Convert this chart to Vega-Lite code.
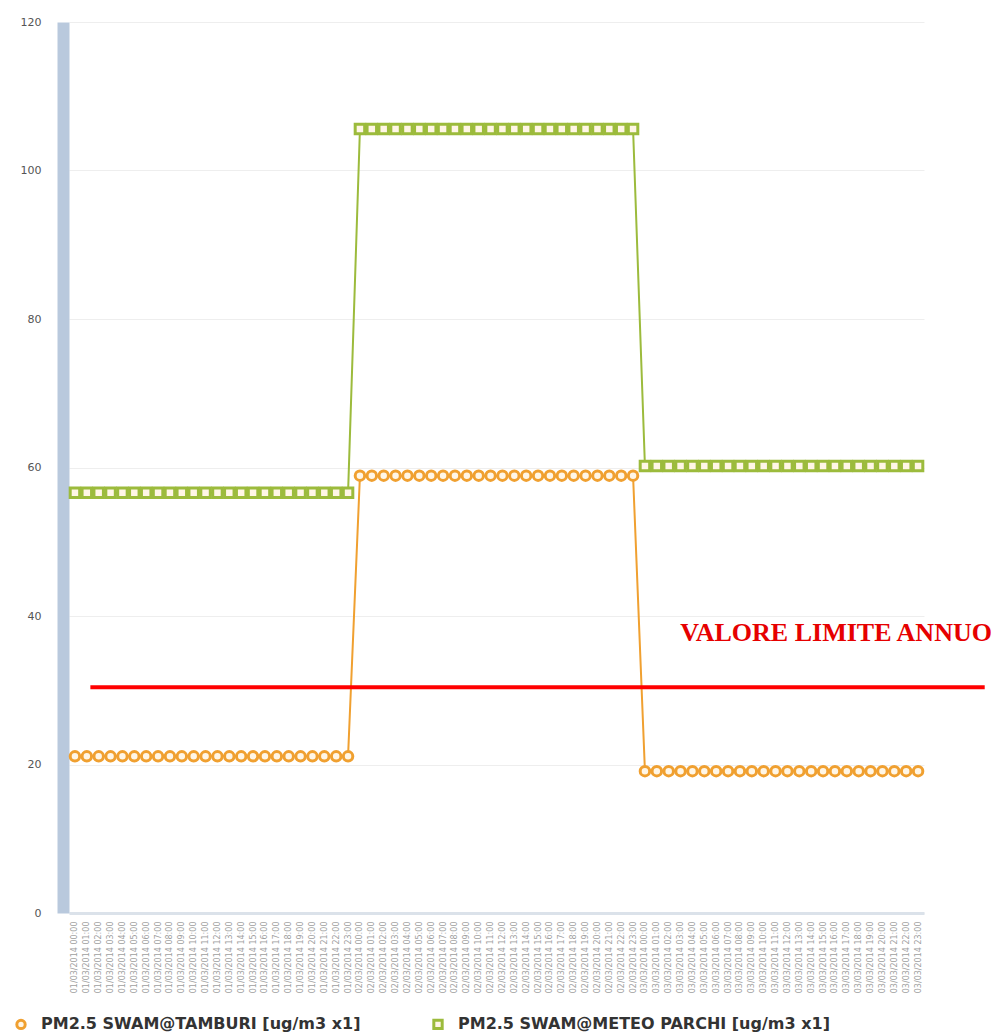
{
  "$schema": "https://vega.github.io/schema/vega-lite/v6.json",
  "width": 855,
  "height": 891,
  "autosize": {"type": "none"},
  "padding": {"left": 69, "top": 22, "right": 80, "bottom": 120},
  "background": "white",
  "config": {"view": {"stroke": null}, "font": "DejaVu Sans"},
  "datasets": {
    "pm": [
      {"t":"01/03/2014 00:00","s":"TAMBURI","v":21.1},{"t":"01/03/2014 01:00","s":"TAMBURI","v":21.1},{"t":"01/03/2014 02:00","s":"TAMBURI","v":21.1},{"t":"01/03/2014 03:00","s":"TAMBURI","v":21.1},{"t":"01/03/2014 04:00","s":"TAMBURI","v":21.1},{"t":"01/03/2014 05:00","s":"TAMBURI","v":21.1},{"t":"01/03/2014 06:00","s":"TAMBURI","v":21.1},{"t":"01/03/2014 07:00","s":"TAMBURI","v":21.1},{"t":"01/03/2014 08:00","s":"TAMBURI","v":21.1},{"t":"01/03/2014 09:00","s":"TAMBURI","v":21.1},{"t":"01/03/2014 10:00","s":"TAMBURI","v":21.1},{"t":"01/03/2014 11:00","s":"TAMBURI","v":21.1},{"t":"01/03/2014 12:00","s":"TAMBURI","v":21.1},{"t":"01/03/2014 13:00","s":"TAMBURI","v":21.1},{"t":"01/03/2014 14:00","s":"TAMBURI","v":21.1},{"t":"01/03/2014 15:00","s":"TAMBURI","v":21.1},{"t":"01/03/2014 16:00","s":"TAMBURI","v":21.1},{"t":"01/03/2014 17:00","s":"TAMBURI","v":21.1},{"t":"01/03/2014 18:00","s":"TAMBURI","v":21.1},{"t":"01/03/2014 19:00","s":"TAMBURI","v":21.1},{"t":"01/03/2014 20:00","s":"TAMBURI","v":21.1},{"t":"01/03/2014 21:00","s":"TAMBURI","v":21.1},{"t":"01/03/2014 22:00","s":"TAMBURI","v":21.1},{"t":"01/03/2014 23:00","s":"TAMBURI","v":21.1},
      {"t":"02/03/2014 00:00","s":"TAMBURI","v":58.9},{"t":"02/03/2014 01:00","s":"TAMBURI","v":58.9},{"t":"02/03/2014 02:00","s":"TAMBURI","v":58.9},{"t":"02/03/2014 03:00","s":"TAMBURI","v":58.9},{"t":"02/03/2014 04:00","s":"TAMBURI","v":58.9},{"t":"02/03/2014 05:00","s":"TAMBURI","v":58.9},{"t":"02/03/2014 06:00","s":"TAMBURI","v":58.9},{"t":"02/03/2014 07:00","s":"TAMBURI","v":58.9},{"t":"02/03/2014 08:00","s":"TAMBURI","v":58.9},{"t":"02/03/2014 09:00","s":"TAMBURI","v":58.9},{"t":"02/03/2014 10:00","s":"TAMBURI","v":58.9},{"t":"02/03/2014 11:00","s":"TAMBURI","v":58.9},{"t":"02/03/2014 12:00","s":"TAMBURI","v":58.9},{"t":"02/03/2014 13:00","s":"TAMBURI","v":58.9},{"t":"02/03/2014 14:00","s":"TAMBURI","v":58.9},{"t":"02/03/2014 15:00","s":"TAMBURI","v":58.9},{"t":"02/03/2014 16:00","s":"TAMBURI","v":58.9},{"t":"02/03/2014 17:00","s":"TAMBURI","v":58.9},{"t":"02/03/2014 18:00","s":"TAMBURI","v":58.9},{"t":"02/03/2014 19:00","s":"TAMBURI","v":58.9},{"t":"02/03/2014 20:00","s":"TAMBURI","v":58.9},{"t":"02/03/2014 21:00","s":"TAMBURI","v":58.9},{"t":"02/03/2014 22:00","s":"TAMBURI","v":58.9},{"t":"02/03/2014 23:00","s":"TAMBURI","v":58.9},
      {"t":"03/03/2014 00:00","s":"TAMBURI","v":19.1},{"t":"03/03/2014 01:00","s":"TAMBURI","v":19.1},{"t":"03/03/2014 02:00","s":"TAMBURI","v":19.1},{"t":"03/03/2014 03:00","s":"TAMBURI","v":19.1},{"t":"03/03/2014 04:00","s":"TAMBURI","v":19.1},{"t":"03/03/2014 05:00","s":"TAMBURI","v":19.1},{"t":"03/03/2014 06:00","s":"TAMBURI","v":19.1},{"t":"03/03/2014 07:00","s":"TAMBURI","v":19.1},{"t":"03/03/2014 08:00","s":"TAMBURI","v":19.1},{"t":"03/03/2014 09:00","s":"TAMBURI","v":19.1},{"t":"03/03/2014 10:00","s":"TAMBURI","v":19.1},{"t":"03/03/2014 11:00","s":"TAMBURI","v":19.1},{"t":"03/03/2014 12:00","s":"TAMBURI","v":19.1},{"t":"03/03/2014 13:00","s":"TAMBURI","v":19.1},{"t":"03/03/2014 14:00","s":"TAMBURI","v":19.1},{"t":"03/03/2014 15:00","s":"TAMBURI","v":19.1},{"t":"03/03/2014 16:00","s":"TAMBURI","v":19.1},{"t":"03/03/2014 17:00","s":"TAMBURI","v":19.1},{"t":"03/03/2014 18:00","s":"TAMBURI","v":19.1},{"t":"03/03/2014 19:00","s":"TAMBURI","v":19.1},{"t":"03/03/2014 20:00","s":"TAMBURI","v":19.1},{"t":"03/03/2014 21:00","s":"TAMBURI","v":19.1},{"t":"03/03/2014 22:00","s":"TAMBURI","v":19.1},{"t":"03/03/2014 23:00","s":"TAMBURI","v":19.1},
      {"t":"01/03/2014 00:00","s":"METEO PARCHI","v":56.6},{"t":"01/03/2014 01:00","s":"METEO PARCHI","v":56.6},{"t":"01/03/2014 02:00","s":"METEO PARCHI","v":56.6},{"t":"01/03/2014 03:00","s":"METEO PARCHI","v":56.6},{"t":"01/03/2014 04:00","s":"METEO PARCHI","v":56.6},{"t":"01/03/2014 05:00","s":"METEO PARCHI","v":56.6},{"t":"01/03/2014 06:00","s":"METEO PARCHI","v":56.6},{"t":"01/03/2014 07:00","s":"METEO PARCHI","v":56.6},{"t":"01/03/2014 08:00","s":"METEO PARCHI","v":56.6},{"t":"01/03/2014 09:00","s":"METEO PARCHI","v":56.6},{"t":"01/03/2014 10:00","s":"METEO PARCHI","v":56.6},{"t":"01/03/2014 11:00","s":"METEO PARCHI","v":56.6},{"t":"01/03/2014 12:00","s":"METEO PARCHI","v":56.6},{"t":"01/03/2014 13:00","s":"METEO PARCHI","v":56.6},{"t":"01/03/2014 14:00","s":"METEO PARCHI","v":56.6},{"t":"01/03/2014 15:00","s":"METEO PARCHI","v":56.6},{"t":"01/03/2014 16:00","s":"METEO PARCHI","v":56.6},{"t":"01/03/2014 17:00","s":"METEO PARCHI","v":56.6},{"t":"01/03/2014 18:00","s":"METEO PARCHI","v":56.6},{"t":"01/03/2014 19:00","s":"METEO PARCHI","v":56.6},{"t":"01/03/2014 20:00","s":"METEO PARCHI","v":56.6},{"t":"01/03/2014 21:00","s":"METEO PARCHI","v":56.6},{"t":"01/03/2014 22:00","s":"METEO PARCHI","v":56.6},{"t":"01/03/2014 23:00","s":"METEO PARCHI","v":56.6},
      {"t":"02/03/2014 00:00","s":"METEO PARCHI","v":105.6},{"t":"02/03/2014 01:00","s":"METEO PARCHI","v":105.6},{"t":"02/03/2014 02:00","s":"METEO PARCHI","v":105.6},{"t":"02/03/2014 03:00","s":"METEO PARCHI","v":105.6},{"t":"02/03/2014 04:00","s":"METEO PARCHI","v":105.6},{"t":"02/03/2014 05:00","s":"METEO PARCHI","v":105.6},{"t":"02/03/2014 06:00","s":"METEO PARCHI","v":105.6},{"t":"02/03/2014 07:00","s":"METEO PARCHI","v":105.6},{"t":"02/03/2014 08:00","s":"METEO PARCHI","v":105.6},{"t":"02/03/2014 09:00","s":"METEO PARCHI","v":105.6},{"t":"02/03/2014 10:00","s":"METEO PARCHI","v":105.6},{"t":"02/03/2014 11:00","s":"METEO PARCHI","v":105.6},{"t":"02/03/2014 12:00","s":"METEO PARCHI","v":105.6},{"t":"02/03/2014 13:00","s":"METEO PARCHI","v":105.6},{"t":"02/03/2014 14:00","s":"METEO PARCHI","v":105.6},{"t":"02/03/2014 15:00","s":"METEO PARCHI","v":105.6},{"t":"02/03/2014 16:00","s":"METEO PARCHI","v":105.6},{"t":"02/03/2014 17:00","s":"METEO PARCHI","v":105.6},{"t":"02/03/2014 18:00","s":"METEO PARCHI","v":105.6},{"t":"02/03/2014 19:00","s":"METEO PARCHI","v":105.6},{"t":"02/03/2014 20:00","s":"METEO PARCHI","v":105.6},{"t":"02/03/2014 21:00","s":"METEO PARCHI","v":105.6},{"t":"02/03/2014 22:00","s":"METEO PARCHI","v":105.6},{"t":"02/03/2014 23:00","s":"METEO PARCHI","v":105.6},
      {"t":"03/03/2014 00:00","s":"METEO PARCHI","v":60.2},{"t":"03/03/2014 01:00","s":"METEO PARCHI","v":60.2},{"t":"03/03/2014 02:00","s":"METEO PARCHI","v":60.2},{"t":"03/03/2014 03:00","s":"METEO PARCHI","v":60.2},{"t":"03/03/2014 04:00","s":"METEO PARCHI","v":60.2},{"t":"03/03/2014 05:00","s":"METEO PARCHI","v":60.2},{"t":"03/03/2014 06:00","s":"METEO PARCHI","v":60.2},{"t":"03/03/2014 07:00","s":"METEO PARCHI","v":60.2},{"t":"03/03/2014 08:00","s":"METEO PARCHI","v":60.2},{"t":"03/03/2014 09:00","s":"METEO PARCHI","v":60.2},{"t":"03/03/2014 10:00","s":"METEO PARCHI","v":60.2},{"t":"03/03/2014 11:00","s":"METEO PARCHI","v":60.2},{"t":"03/03/2014 12:00","s":"METEO PARCHI","v":60.2},{"t":"03/03/2014 13:00","s":"METEO PARCHI","v":60.2},{"t":"03/03/2014 14:00","s":"METEO PARCHI","v":60.2},{"t":"03/03/2014 15:00","s":"METEO PARCHI","v":60.2},{"t":"03/03/2014 16:00","s":"METEO PARCHI","v":60.2},{"t":"03/03/2014 17:00","s":"METEO PARCHI","v":60.2},{"t":"03/03/2014 18:00","s":"METEO PARCHI","v":60.2},{"t":"03/03/2014 19:00","s":"METEO PARCHI","v":60.2},{"t":"03/03/2014 20:00","s":"METEO PARCHI","v":60.2},{"t":"03/03/2014 21:00","s":"METEO PARCHI","v":60.2},{"t":"03/03/2014 22:00","s":"METEO PARCHI","v":60.2},{"t":"03/03/2014 23:00","s":"METEO PARCHI","v":60.2}
    ],
    "lim": [{"p": 2.5, "p2": 107.1, "v": 30.4}],
    "lab": [{"p": 71.5, "v": 36.6, "txt": "VALORE LIMITE ANNUO"}]
  },
  "layer": [
    {
      "data": {"name": "pm"},
      "encoding": {
        "x": {"field": "t", "type": "ordinal", "sort": null,
              "scale": {"type": "point", "padding": 0.5},
              "axis": {"title": null, "labelAngle": -90, "labelAlign": "right", "labelBaseline": "middle",
                       "labelFontSize": 8, "labelColor": "#a0a0a0", "labelPadding": 8, "labelOverlap": false,
                       "ticks": false, "domainColor": "#dbe2ea", "domainWidth": 3, "grid": false}},
        "y": {"field": "v", "type": "quantitative",
              "scale": {"domain": [0, 120], "nice": false},
              "axis": {"title": null, "values": [0, 20, 40, 60, 80, 100, 120], "labelFontSize": 11, "labelColor": "#555",
                       "ticks": false, "tickSize": 0, "labelPadding": 22, "offset": 6,
                       "domainColor": "#b9c9dd", "domainWidth": 12,
                       "grid": true, "gridColor": "#eeeeee", "gridWidth": 1}},
        "color": {"field": "s", "type": "nominal",
                  "scale": {"domain": ["TAMBURI", "METEO PARCHI"], "range": ["#f0a030", "#9cbb3c"]},
                  "legend": {"title": null, "orient": "none", "legendX": -56, "legendY": 994, "direction": "horizontal",
                             "labelExpr": "'PM2.5 SWAM@' + datum.label + ' [ug/m3 x1]'",
                             "labelFontSize": 16, "labelFontWeight": "bold", "labelColor": "#333",
                             "symbolStrokeWidth": 3, "symbolSize": 70, "symbolFillColor": "white",
                             "columnPadding": 66, "labelOffset": 12, "labelLimit": 500}}
      },
      "layer": [
        {"mark": {"type": "line", "strokeWidth": 2}},
        {"mark": {"type": "point", "filled": false, "strokeWidth": 3, "size": 90, "fill": "#fff6e6", "opacity": 1},
         "encoding": {
           "shape": {"field": "s", "type": "nominal", "scale": {"domain": ["TAMBURI", "METEO PARCHI"], "range": ["circle", "square"]}}
         }}
      ]
    },
    {
      "data": {"name": "lim"},
      "mark": {"type": "rule", "color": "#ff0000", "strokeWidth": 4},
      "encoding": {
        "x": {"field": "p", "type": "quantitative", "scale": {"domain": [0, 100], "nice": false, "zero": false}, "axis": null},
        "x2": {"field": "p2"},
        "y": {"field": "v", "type": "quantitative"}
      }
    },
    {
      "data": {"name": "lab"},
      "mark": {"type": "text", "font": "Liberation Serif", "fontWeight": "bold", "fontSize": 26, "color": "#e60000", "align": "left", "baseline": "alphabetic"},
      "encoding": {
        "x": {"field": "p", "type": "quantitative", "scale": {"domain": [0, 100], "nice": false, "zero": false}, "axis": null},
        "y": {"field": "v", "type": "quantitative"},
        "text": {"field": "txt"}
      }
    }
  ],
  "resolve": {"scale": {"x": "independent"}}
}
